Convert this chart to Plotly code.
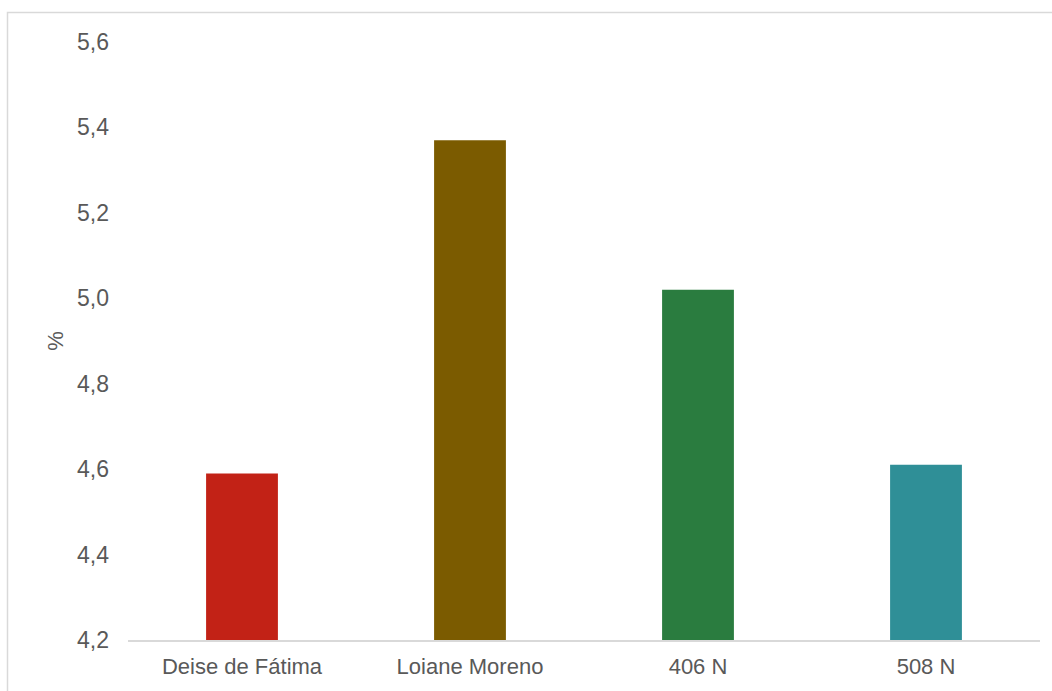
import plotly.graph_objects as go

categories = ["Deise de Fátima", "Loiane Moreno", "406 N", "508 N"]
values = [4.59, 5.37, 5.02, 4.61]
colors = ["#C22216", "#7B5B00", "#2A7C3F", "#2F8F97"]
y_title = "%"

W, H = 1052, 691
ml, mr, mt, mb = 128, 12, 42, 51
pw, ph = W - ml - mr, H - mt - mb

def px_x(x):
    return (x - ml) / pw

def px_y(y):
    return (H - mb - y) / ph

fig = go.Figure(go.Bar(
    x=categories, y=values, marker_color=colors, width=0.315,
    marker_line_width=0,
))

fig.update_layout(
    width=W, height=H,
    margin=dict(l=ml, r=mr, t=mt, b=mb, pad=0),
    plot_bgcolor="white", paper_bgcolor="white",
    separators=",.",
    font=dict(family="Liberation Sans, Arial, sans-serif", size=22, color="#595959"),
    showlegend=False,
    xaxis=dict(showgrid=False, showline=True, linecolor="#D9D9D9", linewidth=1.5,
               ticks="", tickfont=dict(size=22, color="#595959"), ticklabelstandoff=6),
    yaxis=dict(range=[4.2, 5.6], dtick=0.2, tick0=4.2, tickformat=".1f",
               showgrid=False, zeroline=False, showline=False, ticks="",
               tickfont=dict(size=23, color="#595959"),
               ticklabelstandoff=18,
               title=dict(text=y_title, standoff=7, font=dict(size=22, color="#595959"))),
    shapes=[dict(type="rect", xref="paper", yref="paper",
                 x0=px_x(7.5), x1=px_x(1060), y0=px_y(12.5), y1=px_y(700),
                 line=dict(color="#D9D9D9", width=1.5), fillcolor="rgba(0,0,0,0)",
                 layer="below")],
)

fig.write_html("out.html", config={"displayModeBar": False},
               post_script="document.body.style.margin='0';document.body.style.overflow='hidden';")
